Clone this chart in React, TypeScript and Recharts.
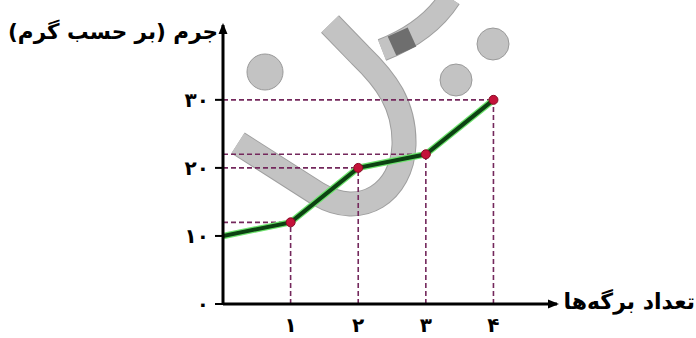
import React from "react";
import {
  LineChart,
  Line,
  XAxis,
  YAxis,
  ReferenceLine,
  ReferenceDot,
} from "recharts";

// داده‌ها
const SHEETS = [0, 1, 2, 3, 4];
const MASS = [10, 12, 20, 22, 30];
const X_TICKS = [1, 2, 3, 4];
const Y_TICKS = [0, 10, 20, 30];
const X_MAX = 4.94;
const Y_MAX = 41;

const Y_TITLE = "جرم (بر حسب گرم)";
const X_TITLE = "تعداد برگه‌ها";

const FA_DIGITS = "۰۱۲۳۴۵۶۷۸۹";
const toFa = (n: number) => String(n).replace(/\d/g, (d) => FA_DIGITS[Number(d)]);

const data = SHEETS.map((x, i) => ({ x, y: MASS[i] }));

const FONT = "'DejaVu Sans', sans-serif";
const GUIDE = "#74285c";

function XTick({ x, y, payload }: any) {
  return (
    <text x={x} y={y + 21} textAnchor="middle" dominantBaseline="central"
      fontFamily={FONT} fontWeight="bold" fontSize={20} fill="#000">
      {toFa(payload.value)}
    </text>
  );
}

function YTick({ x, y, payload }: any) {
  return (
    <text x={x} y={y} textAnchor="end" dominantBaseline="central"
      fontFamily={FONT} fontWeight="bold" fontSize={20} fill="#000">
      {toFa(payload.value)}
    </text>
  );
}

function PointDot(props: any) {
  const { cx, cy, index } = props;
  if (index === 0) return <g key={`d-${index}`} />;
  return <circle key={`d-${index}`} cx={cx} cy={cy} r={4.5} fill="#c4123a" stroke="#8a0a25" strokeWidth={1} />;
}

const arrowRight = ({ cx, cy }: any) => (
  <polygon points={`${cx + 2},${cy} ${cx - 9},${cy - 4.5} ${cx - 9},${cy + 4.5}`} fill="#000" />
);
const arrowUp = ({ cx, cy }: any) => (
  <polygon points={`${cx},${cy - 2} ${cx - 4.5},${cy + 9} ${cx + 4.5},${cy + 9}`} fill="#000" />
);

function Watermark() {
  const band = "M 238 143 L 318 194 C 362 220 402 192 404 145 C 405 105 386 80 360 55 L 330 24";
  const hook = "M 382 50 Q 428 32 450 -2";
  return (
    <svg width={696} height={338} style={{ position: "absolute", left: 0, top: 0 }}>
      <g fill="#c3c3c3" stroke="#9a9a9a" strokeWidth={1}>
        <circle cx={265} cy={72} r={18} />
        <circle cx={493} cy={44} r={16} />
        <circle cx={456} cy={80} r={16} />
      </g>
      <path d={band} fill="none" stroke="#9f9f9f" strokeWidth={25} />
      <path d={band} fill="none" stroke="#c3c3c3" strokeWidth={23} />
      <path d={hook} fill="none" stroke="#9f9f9f" strokeWidth={23} />
      <path d={hook} fill="none" stroke="#c3c3c3" strokeWidth={21} />
      <path d="M 392 46 L 412 37" fill="none" stroke="#6e6e6e" strokeWidth={21} />
    </svg>
  );
}

export default function App() {
  return (
    <div style={{ position: "relative", width: 696, height: 338, background: "#fff", overflow: "hidden" }}>
      <style>{`body{margin:0}`}</style>
      <Watermark />
      <div style={{ position: "absolute", left: 0, top: 0 }}>
        <LineChart width={696} height={338} data={data}
          margin={{ top: 25, right: 139, bottom: 0, left: 163 }}>
          <XAxis type="number" dataKey="x" domain={[0, X_MAX]} ticks={X_TICKS}
            allowDataOverflow tickLine={false} tickSize={0} tickMargin={0} height={34}
            axisLine={{ stroke: "#000", strokeWidth: 3 }} tick={<XTick />} />
          <YAxis type="number" domain={[0, Y_MAX]} ticks={Y_TICKS} width={60}
            allowDataOverflow tickSize={8} tickMargin={6}
            tickLine={{ stroke: "#000", strokeWidth: 2 }}
            axisLine={{ stroke: "#000", strokeWidth: 3 }} tick={<YTick />} />

          {SHEETS.slice(1).map((x, i) => (
            <ReferenceLine key={`h-${x}`} segment={[{ x: 0, y: MASS[i + 1] }, { x, y: MASS[i + 1] }]}
              stroke={GUIDE} strokeWidth={1.6} strokeDasharray="5 3" />
          ))}
          {SHEETS.slice(1).map((x, i) => (
            <ReferenceLine key={`v-${x}`} segment={[{ x, y: 0 }, { x, y: MASS[i + 1] }]}
              stroke={GUIDE} strokeWidth={1.6} strokeDasharray="5 3" />
          ))}

          <Line type="linear" dataKey="y" stroke="#6ee36e" strokeWidth={6.5}
            dot={false} activeDot={false} isAnimationActive={false} />
          <Line type="linear" dataKey="y" stroke="#0c4212" strokeWidth={4}
            dot={PointDot} activeDot={false} isAnimationActive={false} />

          <ReferenceDot x={X_MAX} y={0} shape={arrowRight} />
          <ReferenceDot x={0} y={Y_MAX} shape={arrowUp} />
        </LineChart>
      </div>
      <div dir="rtl" style={{ position: "absolute", right: 478, top: 17, fontFamily: FONT,
        fontWeight: "bold", fontSize: 21.5, whiteSpace: "nowrap", lineHeight: "30px" }}>
        {Y_TITLE}
      </div>
      <div dir="rtl" style={{ position: "absolute", right: 1, top: 287, fontFamily: FONT,
        fontWeight: "bold", fontSize: 22, whiteSpace: "nowrap", lineHeight: "30px" }}>
        {X_TITLE}
      </div>
    </div>
  );
}
